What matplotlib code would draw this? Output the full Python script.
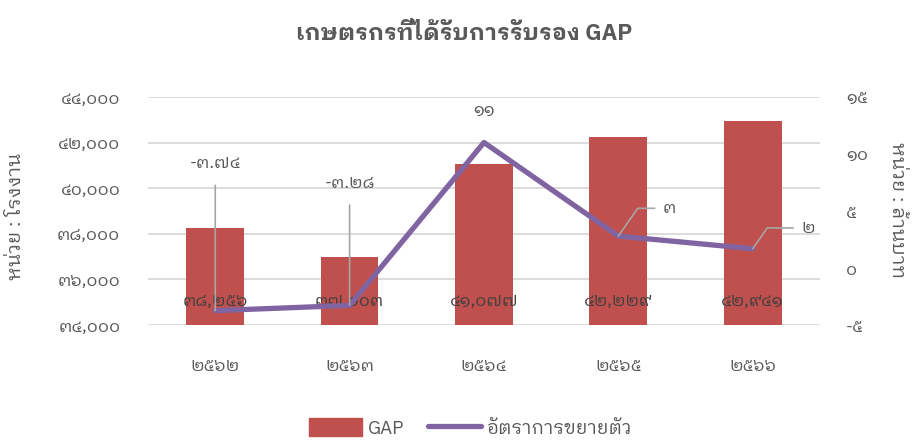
import matplotlib

matplotlib.use("Agg")
import matplotlib.pyplot as plt
import numpy as np
from matplotlib.lines import Line2D
from matplotlib.patches import Patch

FONT = ["IBM Plex Sans Thai Looped", "DejaVu Sans"]
plt.rcParams["font.family"] = FONT

years = ["2562", "2563", "2564", "2565", "2566"]
gap_farmers = [38256, 37003, 41077, 42229, 42941]
growth_pct = [-3.74, -3.28, 11.01, 2.80, 1.69]
growth_labels = ["-3.74", "-3.28", "11", "3", "2"]

TEXT = "#595959"
BAR = "#C0504D"
LINE = "#8064A2"
LEADER = "#A6A6A6"
W = "normal"

THAI = str.maketrans("0123456789", "๐๑๒๓๔๕๖๗๘๙")


def th(s):
    return str(s).translate(THAI)


fig = plt.figure(figsize=(9.14, 4.42), dpi=100)
ax = fig.add_axes([0.162, 0.2647, 0.735, 0.5158])
ax2 = ax.twinx()

x = np.arange(len(years))
ax.bar(x, gap_farmers, width=0.43, color=BAR, zorder=2)
ax.set_ylim(34000, 44000)
ax.set_xlim(-0.5, len(years) - 0.5)
ax.set_yticks(np.arange(34000, 44001, 2000))
ax.set_yticklabels([th(f"{v:,}") for v in np.arange(34000, 44001, 2000)])
ax.set_xticks(x)
ax.set_xticklabels([th(y) for y in years])
ax.grid(axis="y", color="#D9D9D9", lw=1.3, zorder=0)
ax.set_axisbelow(True)

for xi, v in zip(x, gap_farmers):
    ax.annotate(th(f"{v:,}"), (xi, 34000), xytext=(0, 17), textcoords="offset points",
                ha="center", va="center", fontsize=12.5, color="#404040", fontweight=W,
                zorder=5)

ax2.plot(x, growth_pct, color=LINE, lw=3.8, solid_capstyle="round", zorder=3)
ax2.set_ylim(-5, 15)
ax2.set_yticks([-5, 0, 5, 10, 15])
ax2.set_yticklabels([th(v) for v in [-5, 0, 5, 10, 15]])

# data labels for growth line: (dx, dy) offsets in points, leader style
label_pos = [(0, 106, "v"), (0, 88, "v"), (0, 23, None), (37, 20, "e"), (40, 15, "e")]
for xi, v, lab, (dx, dy, kind) in zip(x, growth_pct, growth_labels, label_pos):
    kw = dict(xytext=(dx, dy), textcoords="offset points", ha="center", va="center",
              fontsize=12.5, color=TEXT, fontweight=W)
    if kind == "v":
        kw["arrowprops"] = dict(arrowstyle="-", color=LEADER, lw=1.2, shrinkA=8, shrinkB=0)
    elif kind == "e":
        kw["arrowprops"] = dict(arrowstyle="-", color=LEADER, lw=1.2, shrinkA=4, shrinkB=0,
                                connectionstyle="angle,angleA=0,angleB=55,rad=0")
    ax2.annotate(th(lab), (xi, v), **kw)

for a in (ax, ax2):
    for s in a.spines.values():
        s.set_visible(False)
    a.tick_params(length=0, labelsize=12.5, labelcolor=TEXT)
ax.tick_params(axis="y", pad=20)
ax.tick_params(axis="x", pad=24)
ax2.tick_params(axis="y", pad=19)
for t in ax.get_xticklabels() + ax.get_yticklabels() + ax2.get_yticklabels():
    t.set_fontweight(W)

fig.text(0.018, 0.51, "หน่วย : โรงงาน", rotation=90, ha="center", va="center",
         fontsize=14, color=TEXT, fontweight=W)
fig.text(0.981, 0.525, "หน่วย : ล้านบาท", rotation=-90, ha="center", va="center",
         fontsize=14, color=TEXT, fontweight=W)
fig.text(0.508, 0.925, "เกษตรกรที่ได้รับการรับรอง GAP", ha="center", va="center",
         fontsize=16.5, fontweight="bold", color=TEXT)

handles = [Patch(color=BAR, label="GAP"),
           Line2D([], [], color=LINE, lw=3.8, solid_capstyle="round", label="อัตราการขยายตัว")]
fig.legend(handles=handles, loc="center", bbox_to_anchor=(0.515, 0.032), ncol=2, frameon=False,
           fontsize=13.5, labelcolor=TEXT, handlelength=2.8, handleheight=1.1,
           handletextpad=0.3, columnspacing=1.3)

fig.savefig("out.png", dpi=100)
